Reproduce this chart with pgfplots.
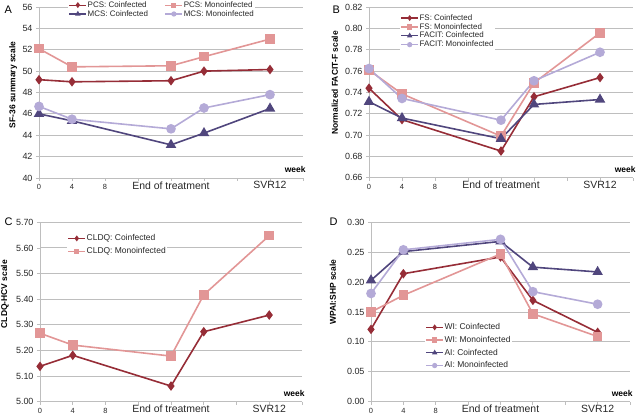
\documentclass[border=0pt]{standalone}
\usepackage{fontspec}
\setmainfont{Liberation Sans}
\usepackage{pgfplots}
\pgfplotsset{compat=1.18}

\definecolor{cored}{RGB}{150,45,55}
\definecolor{monored}{RGB}{226,150,150}
\definecolor{copurp}{RGB}{80,70,125}
\definecolor{monopurp}{RGB}{180,170,215}
\definecolor{gridgray}{RGB}{190,190,190}
\definecolor{txt}{RGB}{40,40,40}

\newcommand{\biglab}{\fontsize{10.5}{12}\selectfont}

\pgfplotsset{
  panel/.style={
    scale only axis, clip=false,
    xmin=0, xmax=32,
    axis x line=bottom, axis y line=left,
    axis line style={-, draw=gridgray, line width=0.8bp},
    xtick={0,4,...,32},
    xticklabels={0,4,8,,,,,,},
    extra x ticks={16,28},
    extra x tick labels={\biglab End of treatment,\biglab SVR12},
    extra x tick style={major tick length=0pt},
    tick align=outside, major tick length=3bp,
    tick style={draw=gridgray, line width=0.8bp},
    ymajorgrids, grid style={draw=gridgray, line width=0.9bp},
    x tick label style={font=\fontsize{7.5}{9}\selectfont, text=txt},
    y tick label style={font=\fontsize{9}{10}\selectfont, text=txt},
    /pgf/number format/assume math mode=true,
    xlabel={week},
    xlabel style={at={(axis description cs:1,0)}, anchor=south east,
      xshift=6bp, yshift=2bp, font=\bfseries\fontsize{8.5}{10}\selectfont},
    ylabel style={font=\bfseries\fontsize{8.5}{10}\selectfont, anchor=center},
    legend cell align=left,
    legend style={draw=none, fill=white, inner sep=0.5bp, anchor=north west,
      font=\fontsize{8}{9.5}\selectfont, text=txt,
      nodes={inner sep=0.8bp}},
    legend image post style={mark size=2bp, line width=1.2bp},
    every axis plot/.append style={line width=1.6bp},
  },
  twodec/.style={yticklabel style={/pgf/number format/.cd, fixed, fixed zerofill, precision=2}},
  co1/.style={cored, mark=diamond*, mark size=3.5bp, mark options={solid}},
  mo1/.style={monored, mark=square*, mark size=4bp, mark options={solid}},
  co2/.style={copurp, mark=triangle*, mark size=4.5bp, mark options={solid}},
  mo2/.style={monopurp, mark=*, mark size=4bp, mark options={solid}},
}

\begin{document}
\begin{tikzpicture}
\path[use as bounding box] (0,0) rectangle (640bp,420bp);

% A
\begin{axis}[panel, at={(39bp,242bp)}, anchor=south west, width=264bp, height=171bp,
  ymin=40, ymax=56, ytick={40,42,...,56},
  ylabel={SF-36 summary scale},
  ylabel style={at={(axis description cs:-0.098,0.544)}},
  legend columns=2,
  legend style={at={(axis description cs:0.11,1.041)},
    /tikz/every even column/.append style={column sep=16bp}}]
\addplot[co1] coordinates {(0,49.2)(4,49.0)(16,49.1)(20,50.0)(28,50.15)};
\addplot[mo1] coordinates {(0,52.1)(4,50.4)(16,50.5)(20,51.35)(28,53.0)};
\addplot[co2] coordinates {(0,46.0)(4,45.35)(16,43.1)(20,44.2)(28,46.5)};
\addplot[mo2] coordinates {(0,46.7)(4,45.5)(16,44.6)(20,46.55)(28,47.8)};
\legend{PCS: Coinfected,PCS: Monoinfected,MCS: Coinfected,MCS: Monoinfected}
\end{axis}

% B
\begin{axis}[panel, twodec, at={(369bp,242.3bp)}, anchor=south west, width=264bp, height=170.4bp,
  ymin=0.66, ymax=0.82, ytick={0.66,0.68,...,0.821},
  ylabel={Normalized FACIT-F scale},
  ylabel style={at={(axis description cs:-0.129,0.556)}},
  legend style={at={(axis description cs:0.117,0.967)}}]
\addplot[co1] coordinates {(0,0.744)(4,0.7145)(16,0.685)(20,0.736)(28,0.754)};
\addplot[mo1] coordinates {(0,0.761)(4,0.7387)(16,0.699)(20,0.749)(28,0.796)};
\addplot[co2] coordinates {(0,0.7313)(4,0.716)(16,0.6966)(20,0.7288)(28,0.7334)};
\addplot[mo2] coordinates {(0,0.7625)(4,0.7344)(16,0.714)(20,0.751)(28,0.7778)};
\legend{FS: Coinfected,FS: Monoinfected,FACIT: Coinfected,FACIT: Monoinfected}
\end{axis}

% C
\begin{axis}[panel, twodec, at={(40bp,18.3bp)}, anchor=south west, width=262bp, height=179.4bp,
  ymin=5.0, ymax=5.7, ytick={5.0,5.1,...,5.71},
  ylabel={CLDQ-HCV scale},
  ylabel style={at={(axis description cs:-0.134,0.60)}},
  legend style={at={(axis description cs:0.103,0.94)}, font=\fontsize{8.5}{10}\selectfont,
    /tikz/row sep=4bp}]
\addplot[co1] coordinates {(0,5.138)(4,5.181)(16,5.061)(20,5.273)(28,5.338)};
\addplot[mo1] coordinates {(0,5.267)(4,5.221)(16,5.178)(20,5.417)(28,5.648)};
\legend{CLDQ: Coinfected,CLDQ: Monoinfected}
\end{axis}

% D
\begin{axis}[panel, twodec, at={(371bp,18.3bp)}, anchor=south west, width=259bp, height=179.4bp,
  ymin=0, ymax=0.3, ytick={0,0.05,...,0.301},
  ylabel={WPAI:SHP scale},
  ylabel style={at={(axis description cs:-0.147,0.61)}},
  legend style={at={(axis description cs:0.208,0.444)}, font=\fontsize{8.5}{10}\selectfont,
    /tikz/row sep=3.5bp}]
\addplot[co1] coordinates {(0,0.121)(4,0.214)(16,0.242)(20,0.1695)(28,0.116)};
\addplot[mo1] coordinates {(0,0.150)(4,0.178)(16,0.247)(20,0.147)(28,0.109)};
\addplot[co2] coordinates {(0,0.203)(4,0.251)(16,0.268)(20,0.225)(28,0.217)};
\addplot[mo2] coordinates {(0,0.181)(4,0.254)(16,0.2715)(20,0.184)(28,0.163)};
\legend{WI: Coinfected,WI: Monoinfected,AI: Coinfected,AI: Monoinfected}
\end{axis}

\node[anchor=north west, font=\fontsize{11}{12}\selectfont] at (1bp,418bp) {A};
\node[anchor=north west, font=\fontsize{11}{12}\selectfont] at (329bp,418bp) {B};
\node[anchor=north west, font=\fontsize{11}{12}\selectfont] at (1bp,206bp) {C};
\node[anchor=north west, font=\fontsize{11}{12}\selectfont] at (326bp,206bp) {D};
\end{tikzpicture}
\end{document}
